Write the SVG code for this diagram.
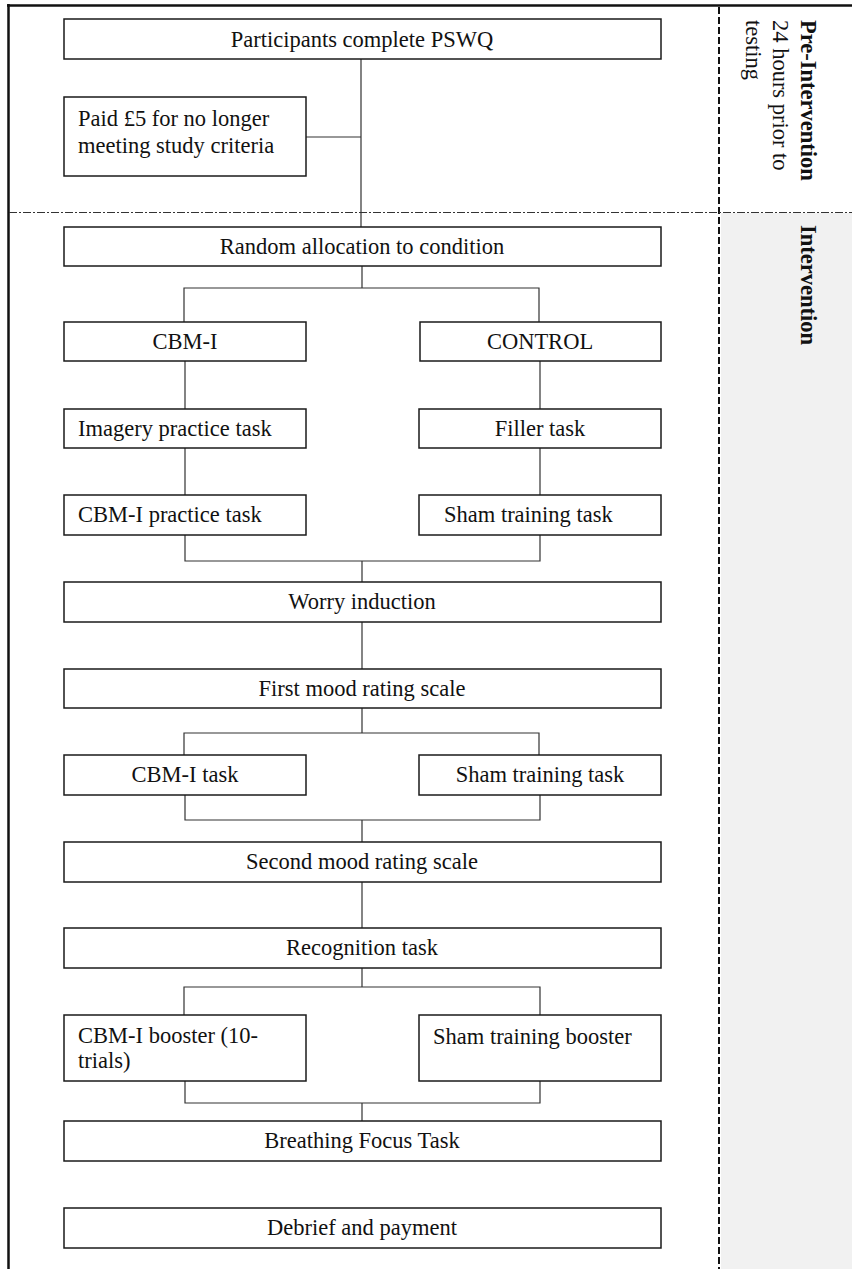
<svg xmlns="http://www.w3.org/2000/svg" width="852" height="1269" viewBox="0 0 852 1269">
<style>
.box{fill:#fff;stroke:#1a1a1a;stroke-width:1.5}
.t{font-family:"Liberation Serif","Times New Roman",serif;font-size:22.5px;fill:#111}
.c{text-anchor:middle}
.b{font-weight:bold}
.ln{fill:none;stroke:#333;stroke-width:1.2}
</style>
<rect x="721" y="213" width="131" height="1056" fill="#f1f1f1"/>
<g id="frame">
<line x1="8.5" y1="4" x2="8.5" y2="1269" stroke="#111" stroke-width="2.5"/>
<line x1="7" y1="5.5" x2="852" y2="5.5" stroke="#111" stroke-width="2.5"/>
<line x1="719" y1="7" x2="719" y2="1269" stroke="#111" stroke-width="2" stroke-dasharray="7,3"/>
<line x1="9" y1="212.5" x2="852" y2="212.5" stroke="#333" stroke-width="1" stroke-dasharray="8,2,2,2"/>
</g>
<g id="labels">
<text class="t b" transform="translate(801,20) rotate(90)">Pre-Intervention</text>
<text class="t" transform="translate(773,20) rotate(90)">24 hours prior to</text>
<text class="t" transform="translate(746,20) rotate(90)">testing</text>
<text class="t b" transform="translate(801,225) rotate(90)">Intervention</text>
</g>
<g id="connectors">
<path class="ln" d="M361,59V227M306,137H361"/>
<path class="ln" d="M362,266V288M184,322V288H539V322"/>
<path class="ln" d="M185,361V409M540,361V409M185,448V495M540,448V495"/>
<path class="ln" d="M185,535V561H540V535M362,561V582"/>
<path class="ln" d="M362,622V669"/>
<path class="ln" d="M362,708V733M184,755V733H539V755"/>
<path class="ln" d="M185,795V820H540V795M362,820V842"/>
<path class="ln" d="M362,882V928"/>
<path class="ln" d="M362,968V987M184,1015V987H540V1015"/>
<path class="ln" d="M185,1081V1103H540V1081M362,1103V1121"/>
</g>
<g id="n1"><rect class="box" x="64" y="19" width="597" height="40"/><text class="t c" x="362" y="47">Participants complete PSWQ</text></g>
<g id="n2"><rect class="box" x="64" y="97" width="242" height="79"/><text class="t" x="78" y="126">Paid £5 for no longer</text><text class="t" x="78" y="153">meeting study criteria</text></g>
<g id="n3"><rect class="box" x="64" y="227" width="597" height="39"/><text class="t c" x="362" y="254">Random allocation to condition</text></g>
<g id="n4"><rect class="box" x="64" y="322" width="242" height="39"/><text class="t c" x="185" y="349">CBM-I</text></g>
<g id="n5"><rect class="box" x="420" y="322" width="241" height="39"/><text class="t c" x="540" y="349">CONTROL</text></g>
<g id="n6"><rect class="box" x="64" y="409" width="242" height="39"/><text class="t" x="78" y="436">Imagery practice task</text></g>
<g id="n7"><rect class="box" x="419" y="409" width="242" height="39"/><text class="t c" x="540" y="436">Filler task</text></g>
<g id="n8"><rect class="box" x="64" y="495" width="242" height="40"/><text class="t" x="78" y="522">CBM-I practice task</text></g>
<g id="n9"><rect class="box" x="419" y="495" width="242" height="40"/><text class="t" x="444" y="522">Sham training task</text></g>
<g id="n10"><rect class="box" x="64" y="582" width="597" height="40"/><text class="t c" x="362" y="609">Worry induction</text></g>
<g id="n11"><rect class="box" x="64" y="669" width="597" height="39"/><text class="t c" x="362" y="696">First mood rating scale</text></g>
<g id="n12"><rect class="box" x="64" y="755" width="242" height="40"/><text class="t c" x="185" y="782">CBM-I task</text></g>
<g id="n13"><rect class="box" x="419" y="755" width="242" height="40"/><text class="t c" x="540" y="782">Sham training task</text></g>
<g id="n14"><rect class="box" x="64" y="842" width="597" height="40"/><text class="t c" x="362" y="869">Second mood rating scale</text></g>
<g id="n15"><rect class="box" x="64" y="928" width="597" height="40"/><text class="t c" x="362" y="955">Recognition task</text></g>
<g id="n16"><rect class="box" x="64" y="1015" width="242" height="66"/><text class="t" x="78" y="1043">CBM-I booster (10-</text><text class="t" x="78" y="1068">trials)</text></g>
<g id="n17"><rect class="box" x="419" y="1015" width="242" height="66"/><text class="t" x="433" y="1044">Sham training booster</text></g>
<g id="n18"><rect class="box" x="64" y="1121" width="597" height="40"/><text class="t c" x="362" y="1148">Breathing Focus Task</text></g>
<g id="n19"><rect class="box" x="64" y="1208" width="597" height="40"/><text class="t c" x="362" y="1235">Debrief and payment</text></g>
</svg>
